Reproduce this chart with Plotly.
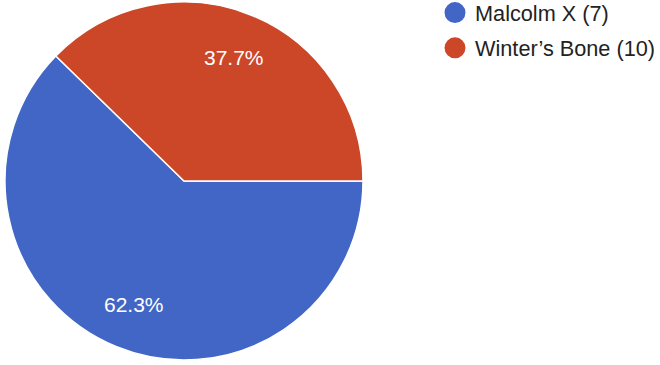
import math
import plotly.graph_objects as go

# Data
labels = ["Malcolm X (7)", "Winter\u2019s Bone (10)"]
values = [62.3, 37.7]
colors = ["#4166c6", "#cc4628"]

W, H = 660, 365
FONT = "Arial, Liberation Sans, sans-serif"

# pie geometry (pixels)
left_px, right_px = 5, 363
top_px, bottom_px = 2, 360
cx_px = (left_px + right_px) / 2
cy_px = (top_px + bottom_px) / 2
R = (right_px - left_px) / 2

fig = go.Figure()
fig.add_trace(go.Pie(
    labels=labels,
    values=values,
    sort=False,
    direction="clockwise",
    rotation=90,
    marker=dict(colors=colors, line=dict(color="white", width=1.5)),
    textinfo="none",
    hoverinfo="label+percent",
    showlegend=False,
    domain=dict(x=[left_px / W, right_px / W], y=[1 - bottom_px / H, 1 - top_px / H]),
))

# legend entries with circle markers
for lab, col in zip(labels, colors):
    fig.add_trace(go.Scatter(
        x=[None], y=[None], mode="markers", name=lab,
        marker=dict(symbol="circle", size=16, color=col, line=dict(color=col, width=5)),
        legendgroup=lab,
    ))

# percentage labels placed at 0.745 R along slice mid-angle
total = sum(values)
annotations = []
start = 0.0  # degrees, east, going clockwise
for v in values:
    frac = v / total
    mid = start - frac * 180
    start -= frac * 360
    a = math.radians(mid)
    r = 0.745 * R
    x_px = cx_px + r * math.cos(a)
    y_px = cy_px - r * math.sin(a)
    annotations.append(dict(
        x=x_px / W, y=1 - y_px / H, xref="paper", yref="paper",
        text=f"{frac * 100:.1f}%", showarrow=False,
        font=dict(family=FONT, size=21, color="white"),
        xanchor="center", yanchor="middle",
    ))

fig.update_layout(
    width=W, height=H,
    margin=dict(l=0, r=0, t=0, b=0, autoexpand=False),
    paper_bgcolor="white", plot_bgcolor="white",
    xaxis=dict(visible=False), yaxis=dict(visible=False),
    font=dict(family=FONT, size=21, color="#222222"),
    legend=dict(x=435 / W, y=1 + 8 / H, xanchor="left", yanchor="top",
                tracegroupgap=4, font=dict(size=21.7, color="#222222")),
    annotations=annotations,
)

fig.write_html("out.html")
